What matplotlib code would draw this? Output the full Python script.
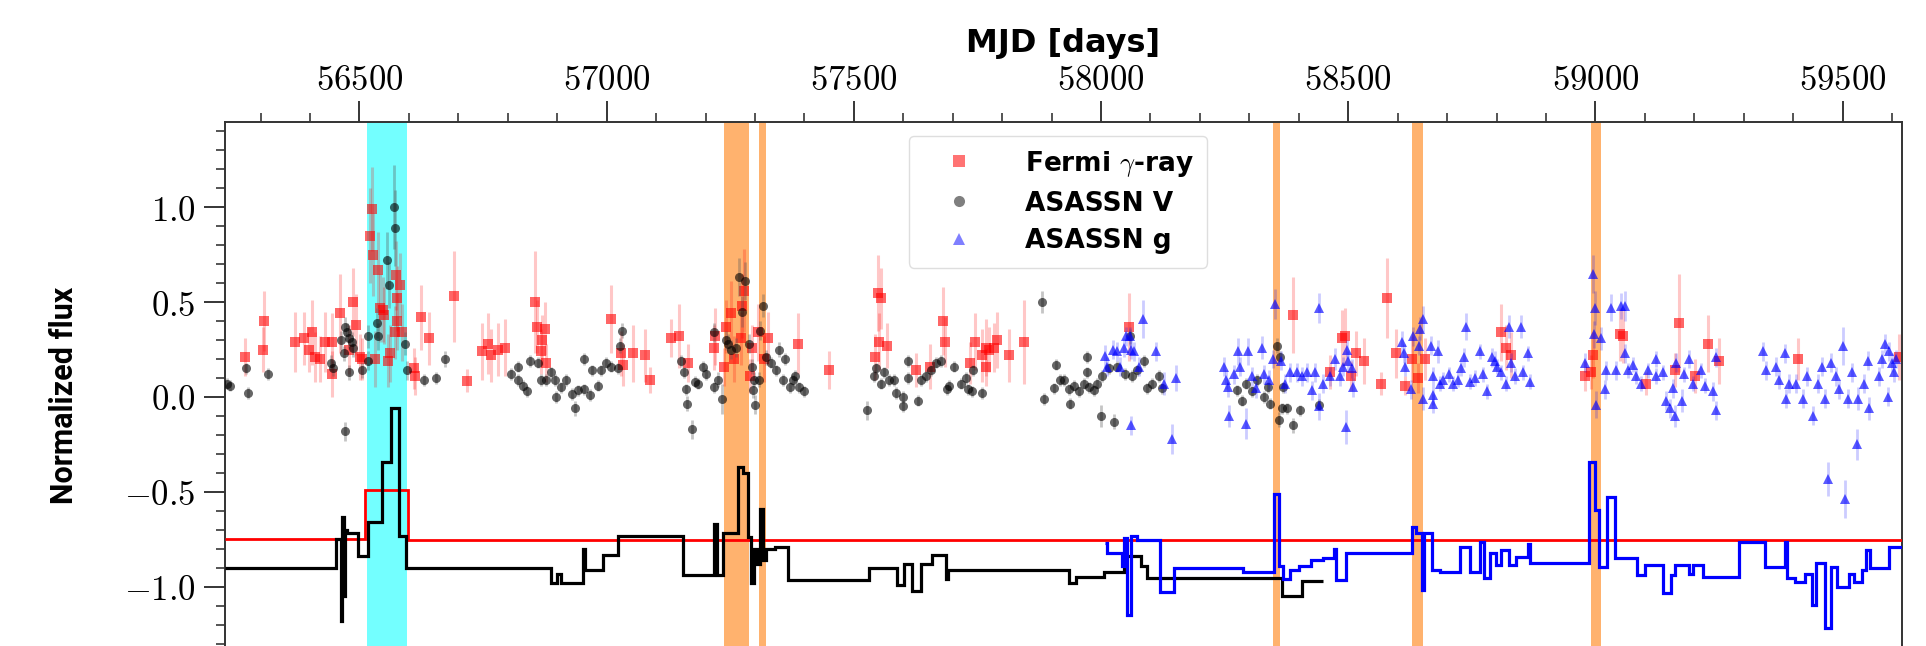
import matplotlib
matplotlib.use("Agg")
import matplotlib.pyplot as plt
from matplotlib.ticker import MultipleLocator, FuncFormatter
from matplotlib.lines import Line2D

plt.rcParams["mathtext.fontset"] = "cm"

# ---------------- Fermi gamma-ray light curve ----------------
fermi_mjd = [56269, 56304, 56306, 56369, 56387, 56397, 56405, 56410, 56420, 56430,
             56444, 56444, 56461, 56478, 56486, 56494, 56501, 56505, 56521, 56525,
             56528, 56531, 56538, 56542, 56548, 56550, 56558, 56562, 56571, 56573,
             56575, 56577, 56582, 56587, 56611, 56612, 56624, 56641, 56692, 56717,
             56747, 56760, 56767, 56780, 56794, 56856, 56859, 56868, 56869, 56875,
             56878, 57008, 57030, 57033, 57053, 57077, 57087, 57130, 57147, 57164,
             57218, 57219, 57238, 57242, 57252, 57258, 57272, 57273, 57277, 57289,
             57295, 57306, 57319, 57326, 57388, 57450, 57543, 57549, 57551, 57555,
             57568, 57625, 57654, 57681, 57684, 57736, 57746, 57760, 57767, 57767,
             57773, 57784, 57789, 57814, 57845, 58056, 58389, 58463, 58487, 58494,
             58505, 58516, 58532, 58566, 58579, 58597, 58615, 58630, 58642, 58655,
             58810, 58820, 58830, 58978, 58992, 58995, 59049, 59056, 59103, 59160,
             59170, 59201, 59227, 59249, 59409, 59614]
fermi_flux = [0.21, 0.25, 0.40, 0.29, 0.31, 0.25, 0.34, 0.21, 0.20, 0.29,
              0.29, 0.12, 0.44, 0.25, 0.50, 0.38, 0.21, 0.20, 0.85, 0.99,
              0.75, 0.20, 0.67, 0.47, 0.46, 0.43, 0.19, 0.23, 0.34, 0.64,
              0.40, 0.52, 0.59, 0.34, 0.15, 0.11, 0.42, 0.31, 0.53, 0.085,
              0.24, 0.28, 0.22, 0.25, 0.26, 0.50, 0.37, 0.24, 0.30, 0.36,
              0.18, 0.41, 0.23, 0.17, 0.23, 0.22, 0.09, 0.31, 0.32, 0.18,
              0.26, 0.32, 0.16, 0.37, 0.44, 0.20, 0.31, 0.48, 0.56, 0.11,
              0.26, 0.34, 0.20, 0.31, 0.28, 0.14, 0.21, 0.55, 0.29, 0.52,
              0.27, 0.14, 0.16, 0.40, 0.29, 0.18, 0.29, 0.22, 0.26, 0.16,
              0.25, 0.26, 0.30, 0.22, 0.29, 0.37, 0.43, 0.13, 0.31, 0.32,
              0.11, 0.23, 0.19, 0.07, 0.52, 0.23, 0.06, 0.20, 0.10, 0.20,
              0.34, 0.26, 0.22, 0.11, 0.13, 0.22, 0.33, 0.32, 0.07, 0.14,
              0.39, 0.11, 0.28, 0.19, 0.20, 0.21]
fermi_err = [0.10, 0.12, 0.16, 0.16, 0.14, 0.12, 0.17, 0.13, 0.12, 0.16,
             0.15, 0.12, 0.21, 0.13, 0.18, 0.16, 0.12, 0.11, 0.25, 0.22,
             0.22, 0.15, 0.20, 0.18, 0.17, 0.15, 0.14, 0.15, 0.14, 0.18,
             0.15, 0.17, 0.17, 0.15, 0.11, 0.10, 0.17, 0.14, 0.24, 0.06,
             0.15, 0.16, 0.14, 0.14, 0.15, 0.27, 0.14, 0.12, 0.13, 0.14,
             0.10, 0.18, 0.12, 0.11, 0.15, 0.14, 0.07, 0.10, 0.17, 0.10,
             0.12, 0.15, 0.10, 0.14, 0.17, 0.12, 0.14, 0.17, 0.22, 0.09,
             0.12, 0.15, 0.12, 0.14, 0.16, 0.10, 0.12, 0.20, 0.15, 0.16,
             0.12, 0.09, 0.12, 0.18, 0.13, 0.11, 0.15, 0.14, 0.15, 0.10,
             0.12, 0.13, 0.15, 0.14, 0.22, 0.18, 0.20, 0.09, 0.15, 0.15,
             0.08, 0.12, 0.12, 0.06, 0.21, 0.13, 0.05, 0.12, 0.08, 0.11,
             0.15, 0.12, 0.12, 0.08, 0.09, 0.12, 0.14, 0.14, 0.06, 0.09,
             0.26, 0.09, 0.15, 0.12, 0.11, 0.12]

# ---------------- ASAS-SN V band ----------------
v_mjd = [56232, 56239, 56270, 56274, 56315, 56443, 56447, 56463, 56468, 56471,
         56471, 56474, 56479, 56479, 56484, 56488, 56505, 56517, 56518, 56535,
         56538, 56555, 56560, 56569, 56571, 56592, 56597, 56631, 56654, 56674,
         56807, 56820, 56821, 56831, 56838, 56844, 56861, 56868, 56878, 56888,
         56895, 56898, 56908, 56918, 56929, 56937, 56943, 56954, 56955, 56966,
         56970, 56982, 56989, 56999, 57009, 57023, 57028, 57031, 57151, 57157,
         57161, 57163, 57172, 57178, 57184, 57194, 57201, 57217, 57218, 57225,
         57233, 57242, 57246, 57252, 57262, 57268, 57273, 57279, 57287, 57295,
         57297, 57299, 57300, 57309, 57311, 57316, 57322, 57332, 57343, 57349,
         57356, 57360, 57370, 57376, 57381, 57390, 57399, 57526, 57540, 57545,
         57555, 57561, 57572, 57582, 57585, 57600, 57600, 57609, 57610, 57629,
         57635, 57646, 57656, 57666, 57676, 57688, 57693, 57703, 57716, 57726,
         57731, 57740, 57742, 57760, 57881, 57884, 57905, 57908, 57918, 57925,
         57935, 57938, 57945, 57955, 57965, 57971, 57971, 57975, 57985, 57992,
         58000, 58002, 58016, 58026, 58033, 58049, 58059, 58063, 58073, 58086,
         58093, 58103, 58117, 58124, 58275, 58285, 58294, 58305, 58315, 58329,
         58337, 58342, 58356, 58359, 58362, 58366, 58369, 58376, 58388, 58403,
         58440]
v_flux = [0.07, 0.06, 0.15, 0.02, 0.12, 0.18, 0.15, 0.30, 0.23, 0.37,
          -0.18, 0.34, 0.31, 0.13, 0.29, 0.26, 0.14, 0.19, 0.32, 0.39,
          0.32, 0.72, 0.59, 1.00, 0.89, 0.28, 0.14, 0.09, 0.10, 0.20,
          0.12, 0.16, 0.09, 0.06, 0.03, 0.19, 0.18, 0.09, 0.09, 0.13,
          0.09, 0.00, 0.05, 0.09, 0.015, -0.06, 0.035, 0.04, 0.20, 0.01,
          0.14, 0.06, 0.14, 0.18, 0.16, 0.15, 0.27, 0.35, 0.19, 0.13,
          0.04, -0.035, -0.17, 0.08, 0.07, 0.16, 0.12, 0.05, 0.34, 0.09,
          -0.01, 0.30, 0.28, 0.25, 0.26, 0.63, 0.45, 0.61, 0.28, 0.16,
          0.035, 0.09, -0.04, 0.09, 0.35, 0.48, 0.21, 0.18, 0.14, 0.25,
          0.09, 0.20, 0.05, 0.09, 0.11, 0.05, 0.03, -0.07, 0.11, 0.15,
          0.07, 0.13, 0.09, 0.09, 0.02, 0.00, -0.05, 0.10, 0.19, -0.02,
          0.09, 0.11, 0.14, 0.18, 0.19, 0.04, 0.06, 0.16, 0.07, 0.10,
          0.04, 0.03, 0.14, 0.02, 0.50, -0.01, 0.045, 0.17, 0.09, 0.09,
          0.04, -0.035, 0.06, 0.03, 0.07, 0.21, 0.13, 0.05, 0.035, 0.07,
          -0.10, 0.11, 0.15, -0.13, 0.16, 0.12, 0.32, 0.11, 0.14, 0.19,
          0.045, 0.07, 0.11, 0.045, 0.035, -0.02, 0.07, 0.03, 0.09, 0.00,
          0.05, -0.035, 0.27, -0.12, 0.21, -0.06, 0.05, -0.06, -0.15, -0.07,
          -0.04]
v_err = [0.03, 0.03, 0.03, 0.03, 0.03, 0.04, 0.04, 0.05, 0.04, 0.05,
         0.05, 0.05, 0.05, 0.04, 0.05, 0.05, 0.04, 0.05, 0.06, 0.08,
         0.07, 0.15, 0.12, 0.22, 0.20, 0.06, 0.05, 0.03, 0.03, 0.04,
         0.03, 0.03, 0.03, 0.03, 0.03, 0.03, 0.03, 0.03, 0.03, 0.03,
         0.03, 0.03, 0.03, 0.03, 0.03, 0.04, 0.03, 0.03, 0.03, 0.03,
         0.03, 0.03, 0.03, 0.03, 0.03, 0.03, 0.04, 0.04, 0.03, 0.03,
         0.03, 0.04, 0.05, 0.03, 0.03, 0.03, 0.03, 0.03, 0.05, 0.04,
         0.08, 0.05, 0.05, 0.05, 0.05, 0.10, 0.08, 0.10, 0.05, 0.04,
         0.04, 0.04, 0.05, 0.04, 0.05, 0.06, 0.04, 0.03, 0.03, 0.04,
         0.03, 0.03, 0.03, 0.03, 0.03, 0.03, 0.03, 0.05, 0.03, 0.03,
         0.03, 0.03, 0.03, 0.03, 0.03, 0.03, 0.03, 0.03, 0.03, 0.03,
         0.03, 0.03, 0.03, 0.03, 0.03, 0.03, 0.03, 0.03, 0.03, 0.03,
         0.03, 0.03, 0.03, 0.03, 0.06, 0.03, 0.03, 0.03, 0.03, 0.03,
         0.03, 0.03, 0.03, 0.03, 0.03, 0.03, 0.03, 0.03, 0.03, 0.03,
         0.06, 0.03, 0.03, 0.04, 0.03, 0.03, 0.04, 0.03, 0.03, 0.03,
         0.03, 0.03, 0.03, 0.03, 0.03, 0.03, 0.03, 0.03, 0.03, 0.03,
         0.03, 0.03, 0.04, 0.04, 0.03, 0.03, 0.03, 0.03, 0.04, 0.03,
         0.03]

# ---------------- ASAS-SN g band ----------------
g_mjd = [58009, 58012, 58025, 58033, 58038, 58046, 58050, 58058, 58060, 58060,
         58066, 58076, 58085, 58112, 58127, 58144, 58152, 58249, 58253, 58257,
         58258, 58268, 58278, 58282, 58294, 58298, 58305, 58314, 58325, 58329,
         58339, 58348, 58352, 58364, 58372, 58383, 58396, 58406, 58416, 58426,
         58433, 58440, 58440, 58450, 58463, 58473, 58483, 58490, 58496, 58497,
         58500, 58507, 58510, 58608, 58612, 58614, 58628, 58632, 58644, 58645,
         58651, 58652, 58667, 58671, 58672, 58672, 58682, 58685, 58692, 58704,
         58712, 58723, 58729, 58734, 58738, 58746, 58756, 58766, 58772, 58780,
         58790, 58797, 58801, 58810, 58820, 58826, 58830, 58837, 58850, 58854,
         58864, 58867, 58978, 58995, 58998, 59000, 59002, 59012, 59019, 59022,
         59032, 59042, 59052, 59059, 59059, 59066, 59076, 59083, 59093, 59106,
         59122, 59123, 59137, 59142, 59150, 59157, 59160, 59163, 59176, 59180,
         59190, 59197, 59214, 59221, 59237, 59243, 59244, 59338, 59345, 59365,
         59372, 59384, 59386, 59392, 59406, 59419, 59429, 59441, 59450, 59458,
         59465, 59470, 59476, 59487, 59492, 59500, 59505, 59510, 59520, 59530,
         59532, 59544, 59552, 59554, 59574, 59579, 59586, 59591, 59594, 59600,
         59604, 59608]
g_flux = [0.215, 0.16, 0.25, 0.24, 0.16, 0.26, 0.32, 0.32, 0.25, -0.15,
          0.24, 0.16, 0.41, 0.24, 0.07, -0.22, 0.10, 0.16, 0.09, 0.05,
          -0.10, 0.12, 0.24, 0.16, -0.14, 0.24, 0.11, 0.045, 0.26, 0.12,
          0.09, 0.20, 0.49, 0.19, 0.07, 0.13, 0.13, 0.11, 0.13, 0.035,
          0.13, 0.47, -0.05, 0.07, 0.11, 0.20, 0.11, 0.16, -0.16, 0.25,
          0.19, 0.15, 0.05, 0.29, 0.23, 0.16, 0.04, 0.32, 0.27, 0.36,
          -0.01, 0.41, 0.27, 0.01, -0.035, 0.11, 0.24, 0.07, 0.09, 0.12,
          0.07, 0.09, 0.15, 0.21, 0.37, 0.08, 0.10, 0.24, 0.12, 0.03,
          0.21, 0.19, 0.16, 0.13, 0.07, 0.37, 0.18, 0.11, 0.37, 0.13,
          0.23, 0.08, 0.18, 0.65, 0.33, 0.47, -0.04, 0.31, 0.04, 0.14,
          0.47, 0.14, 0.48, 0.48, 0.23, 0.14, 0.17, 0.11, 0.07, 0.14,
          0.20, 0.11, 0.13, -0.02, -0.06, 0.045, -0.10, 0.18, -0.02, 0.12,
          0.20, 0.07, 0.14, 0.06, 0.03, 0.21, -0.07, 0.24, 0.14, 0.16,
          0.09, 0.23, -0.01, 0.07, 0.07, -0.01, 0.11, -0.10, 0.07, 0.16,
          -0.01, -0.43, 0.18, 0.11, 0.04, 0.27, -0.54, -0.01, 0.13, -0.25,
          -0.01, 0.07, 0.19, -0.06, 0.11, 0.20, 0.28, 0.00, 0.24, 0.18,
          0.13, 0.20]
g_err = [0.06, 0.05, 0.05, 0.05, 0.05, 0.05, 0.05, 0.05, 0.05, 0.05,
         0.05, 0.05, 0.10, 0.05, 0.06, 0.08, 0.07, 0.05, 0.05, 0.05,
         0.06, 0.05, 0.07, 0.05, 0.08, 0.07, 0.05, 0.05, 0.06, 0.05,
         0.05, 0.05, 0.08, 0.05, 0.05, 0.05, 0.05, 0.05, 0.05, 0.05,
         0.05, 0.08, 0.07, 0.05, 0.05, 0.06, 0.05, 0.05, 0.09, 0.05,
         0.05, 0.05, 0.05, 0.06, 0.05, 0.05, 0.05, 0.05, 0.05, 0.06,
         0.06, 0.07, 0.05, 0.05, 0.05, 0.05, 0.06, 0.04, 0.04, 0.04,
         0.04, 0.04, 0.04, 0.05, 0.07, 0.04, 0.04, 0.04, 0.04, 0.04,
         0.05, 0.05, 0.04, 0.04, 0.04, 0.06, 0.05, 0.04, 0.06, 0.04,
         0.04, 0.04, 0.05, 0.10, 0.07, 0.09, 0.07, 0.06, 0.05, 0.05,
         0.07, 0.05, 0.07, 0.08, 0.05, 0.04, 0.04, 0.04, 0.04, 0.04,
         0.04, 0.04, 0.04, 0.05, 0.05, 0.05, 0.06, 0.05, 0.06, 0.04,
         0.05, 0.04, 0.04, 0.04, 0.05, 0.05, 0.05, 0.05, 0.05, 0.05,
         0.05, 0.05, 0.05, 0.05, 0.05, 0.05, 0.05, 0.05, 0.05, 0.05,
         0.05, 0.09, 0.05, 0.05, 0.05, 0.10, 0.10, 0.05, 0.05, 0.08,
         0.06, 0.05, 0.05, 0.06, 0.05, 0.05, 0.05, 0.05, 0.05, 0.05,
         0.05, 0.05]

# ---------------- Bayesian-block representations (offset) ----------------
fermi_block_edges = [56228, 56511, 56599, 59620]
fermi_block_vals = [-0.748, -0.49, -0.755]

v_block_edges = [56228, 56453, 56462, 56465, 56468, 56471, 56475, 56498, 56518, 56545,
                 56563, 56580, 56595, 56888, 56900, 56908, 56953, 56956, 56993, 57023,
                 57154, 57218, 57224, 57235, 57265, 57275, 57285, 57292, 57298, 57305,
                 57310, 57316, 57322, 57340, 57366, 57531, 57588, 57602, 57618, 57635,
                 57659, 57686, 57690, 57935, 57950, 58006, 58046, 58080, 58093, 58367,
                 58407, 58448]
v_block_vals = [-0.90, -0.75, -1.18, -0.63, -1.05, -0.70, -0.715, -0.84, -0.66,
                -0.34, -0.056, -0.73, -0.90, -0.98, -0.93, -0.98, -0.80, -0.91, -0.83,
                -0.73, -0.94, -0.67, -0.94, -0.715, -0.37, -0.40, -0.74, -0.98, -0.80,
                -0.88, -0.59, -0.86, -0.80, -0.79, -0.965, -0.90, -0.99, -0.88, -1.02,
                -0.88, -0.83, -0.96, -0.91, -0.98, -0.95, -0.92, -0.84, -0.89, -0.955,
                -1.05, -0.97]

g_block_edges = [58009, 58012, 58043, 58046, 58053, 58060, 58073, 58120, 58147, 58288,
                 58349, 58359, 58369, 58383, 58400, 58424, 58448, 58472, 58476, 58496,
                 58629, 58637, 58649, 58653, 58669, 58685, 58726, 58746, 58766, 58774,
                 58786, 58798, 58810, 58826, 58839, 58863, 58867, 58988, 59000, 59008,
                 59024, 59040, 59085, 59101, 59137, 59153, 59161, 59190, 59198, 59218,
                 59290, 59343, 59383, 59387, 59403, 59423, 59439, 59447, 59464, 59476,
                 59488, 59512, 59524, 59540, 59548, 59556, 59593, 59620]
g_block_vals = [-0.77, -0.82, -0.89, -0.745, -1.15, -0.73, -0.755, -1.03, -0.90,
                -0.92, -0.51, -0.89, -0.96, -0.91, -0.89, -0.86, -0.85, -0.80, -0.965,
                -0.824, -0.684, -0.719, -1.017, -0.719, -0.912, -0.921, -0.789, -0.921,
                -0.763, -0.956, -0.824, -0.886, -0.807, -0.886, -0.842, -0.772, -0.877,
                -0.342, -0.596, -0.894, -0.526, -0.85, -0.938, -0.886, -1.035, -0.938,
                -0.886, -0.93, -0.886, -0.947, -0.763, -0.894, -0.763, -0.956, -0.973,
                -0.93, -1.096, -0.877, -1.219, -0.894, -1.0, -0.93, -0.973, -0.91,
                -0.807, -0.90, -0.789]

# ---------------- highlighted flare windows ----------------
flare_window = (56516, 56597)
orange_windows = [(57237, 57288), (57309, 57322), (58347, 58362),
                  (58630, 58651), (58992, 59011)]

x_range = (56228, 59620)
y_range = (-1.35, 1.45)

# ---------------- figure ----------------
fig = plt.figure(figsize=(19.26, 6.46), dpi=100)
ax = fig.add_axes([0.1168, -0.0112, 0.8707, 0.8228])

ax.axvspan(*flare_window, color="cyan", alpha=0.55, lw=0, zorder=0)
for lo, hi in orange_windows:
    ax.axvspan(lo, hi, color="tab:orange", alpha=0.6, lw=0, zorder=0)

ax.errorbar(fermi_mjd, fermi_flux, yerr=fermi_err, fmt="none",
            ecolor="red", alpha=0.22, elinewidth=2.2, zorder=1)
ax.plot(fermi_mjd, fermi_flux, "s", color="red", alpha=0.6, ms=6.5, mew=0, zorder=2)

ax.errorbar(v_mjd, v_flux, yerr=v_err, fmt="none",
            ecolor="0.35", alpha=0.35, elinewidth=2.0, zorder=2)
ax.plot(v_mjd, v_flux, "o", color="black", alpha=0.6, ms=6.5, mew=0, zorder=3)

ax.errorbar(g_mjd, g_flux, yerr=g_err, fmt="none",
            ecolor="blue", alpha=0.2, elinewidth=2.0, zorder=3)
ax.plot(g_mjd, g_flux, "^", color="blue", alpha=0.65, ms=6.5, mew=0, zorder=4)

ax.stairs(fermi_block_vals, fermi_block_edges, baseline=None,
          color="red", lw=2.0, zorder=5)
ax.stairs(v_block_vals, v_block_edges, baseline=None,
          color="black", lw=2.3, zorder=5)
ax.stairs(g_block_vals, g_block_edges, baseline=None,
          color="blue", lw=2.3, zorder=6)

ax.set_xlim(*x_range)
ax.set_ylim(*y_range)

ax.xaxis.tick_top()
ax.xaxis.set_label_position("top")
ax.xaxis.set_major_locator(MultipleLocator(500))
ax.xaxis.set_minor_locator(MultipleLocator(100))
ax.yaxis.set_major_locator(MultipleLocator(0.5))
ax.yaxis.set_minor_locator(MultipleLocator(0.1))
ax.xaxis.set_major_formatter(FuncFormatter(lambda v, p: r"$%d$" % v))
ax.yaxis.set_major_formatter(FuncFormatter(lambda v, p: r"$%.1f$" % v))

ax.tick_params(which="major", length=15, width=1.3, labelsize=25, color="0.15")
ax.tick_params(which="minor", length=6.5, width=1.1, color="0.15")
ax.tick_params(axis="x", which="major", pad=3)
ax.tick_params(axis="y", which="major", pad=6)
for s in ax.spines.values():
    s.set_linewidth(1.4)
    s.set_color("0.2")

ax.set_xlabel("MJD [days]", fontsize=23, fontweight="bold",
              family="DejaVu Sans", labelpad=8)
ax.set_ylabel("Normalized flux", fontsize=22, fontweight="bold",
              family=["Roboto", "DejaVu Sans"])
ax.yaxis.set_label_coords(-0.087, 0.485)

handles = [
    Line2D([], [], ls="none", marker="s", color="red", alpha=0.55, ms=8, mew=0),
    Line2D([], [], ls="none", marker="o", color="black", alpha=0.5, ms=8, mew=0),
    Line2D([], [], ls="none", marker="^", color="blue", alpha=0.5, ms=8, mew=0),
]
labels = [r"Fermi $\gamma$-ray", "ASASSN V", "ASASSN g"]
leg = ax.legend(handles, labels, loc="upper left", bbox_to_anchor=(0.408, 0.974),
                borderaxespad=0, handlelength=2.8, handletextpad=1.1,
                borderpad=0.5, labelspacing=0.45, fancybox=True, framealpha=0.85,
                edgecolor="0.85",
                prop={"family": "DejaVu Sans", "weight": "bold", "size": 19})
leg.set_zorder(10)

fig.savefig("out.png", dpi=100)
